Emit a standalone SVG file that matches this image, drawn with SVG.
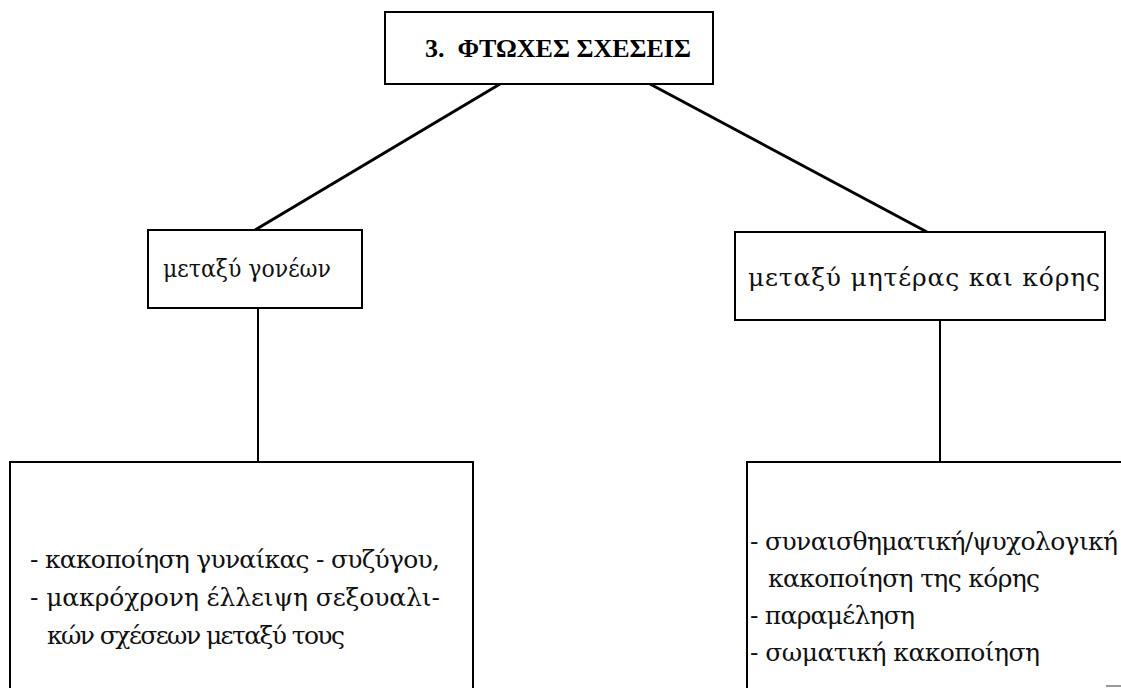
<svg xmlns="http://www.w3.org/2000/svg" width="1121" height="688" viewBox="0 0 1121 688">
<style>
.box{fill:#fff;stroke:#000;stroke-width:2}
.con{stroke:#000;stroke-width:3;fill:none}
.t{font-family:"DejaVu Serif","Liberation Serif",serif;font-size:25px;fill:#111;white-space:pre}
.title{font-family:"Liberation Serif","DejaVu Serif",serif;font-size:26px;font-weight:bold;fill:#000;white-space:pre}
</style>
<rect width="1121" height="688" fill="#fff"/>
<g id="connectors">
<line class="con" x1="500" y1="84" x2="255" y2="230"/>
<line class="con" x1="650" y1="84" x2="927" y2="232"/>
<line class="con" x1="258" y1="308" x2="258" y2="462" style="stroke-width:2"/>
<line class="con" x1="940" y1="320" x2="940" y2="462" style="stroke-width:2"/>
</g>
<g id="n-title">
<rect class="box" x="385" y="12" width="328" height="72"/>
<text class="title" x="558" y="57" text-anchor="middle">3.  ΦΤΩΧΕΣ ΣΧΕΣΕΙΣ</text>
</g>
<g id="n-parents">
<rect class="box" x="148" y="230" width="214" height="78"/>
<text class="t" x="163" y="277" textLength="168" lengthAdjust="spacingAndGlyphs">μεταξύ γονέων</text>
</g>
<g id="n-mother">
<rect class="box" x="735" y="232" width="370" height="88"/>
<text class="t" x="748" y="286" textLength="352" lengthAdjust="spacing">μεταξύ μητέρας και κόρης</text>
</g>
<g id="n-parents-detail">
<rect class="box" x="10" y="462" width="463" height="240"/>
<text class="t" x="30" y="568" textLength="410" lengthAdjust="spacing">- κακοποίηση γυναίκας - συζύγου,</text>
<text class="t" x="30" y="606" textLength="410" lengthAdjust="spacing">- μακρόχρονη έλλειψη σεξουαλι-</text>
<text class="t" x="47" y="644" textLength="298" lengthAdjust="spacing">κών σχέσεων μεταξύ τους</text>
</g>
<g id="n-mother-detail">
<rect class="box" x="747" y="462" width="400" height="240"/>
<text class="t" x="750" y="550" textLength="368" lengthAdjust="spacing">- συναισθηματική/ψυχολογική</text>
<text class="t" x="768" y="587" textLength="272" lengthAdjust="spacing">κακοποίηση της κόρης</text>
<text class="t" x="750" y="624" textLength="165" lengthAdjust="spacing">- παραμέληση</text>
<text class="t" x="750" y="661" textLength="290" lengthAdjust="spacing">- σωματική κακοποίηση</text>
</g>
<line x1="1106" y1="686" x2="1121" y2="686" stroke="#999" stroke-width="2"/>
</svg>
